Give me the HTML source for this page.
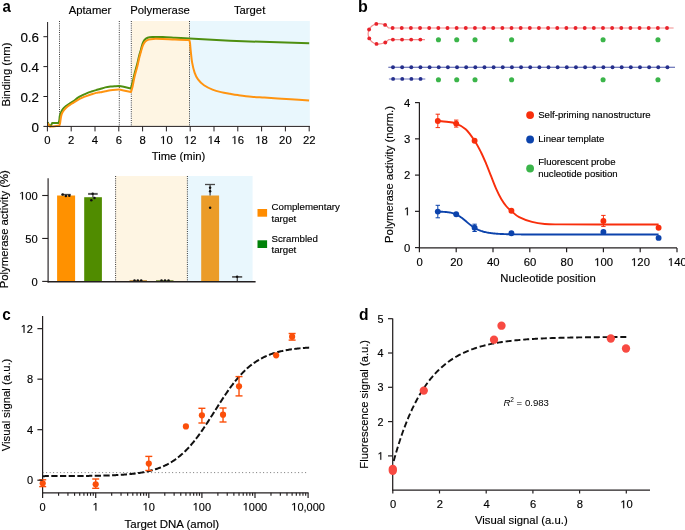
<!DOCTYPE html>
<html><head><meta charset="utf-8"><style>
html,body{margin:0;padding:0;background:#fff;}
svg{display:block;font-family:"Liberation Sans", sans-serif;fill:#000;will-change:transform;}
text{stroke:#000;stroke-width:0.15px;}
text[font-weight=bold]{stroke:none;}
</style></head><body>
<svg width="685" height="530" viewBox="0 0 685 530">
<rect x="131.8" y="21" width="57.7" height="105" fill="#fef5e3"/>
<rect x="189.5" y="21" width="120.3" height="104.6" fill="#e9f7fd"/>
<line x1="59.5" y1="21" x2="59.5" y2="126" stroke="#222" stroke-width="0.9" stroke-dasharray="1 1.2"/>
<line x1="119.3" y1="21" x2="119.3" y2="126" stroke="#222" stroke-width="0.9" stroke-dasharray="1 1.2"/>
<line x1="131.3" y1="21" x2="131.3" y2="126" stroke="#222" stroke-width="0.9" stroke-dasharray="1 1.2"/>
<line x1="189.5" y1="21" x2="189.5" y2="126" stroke="#222" stroke-width="0.9" stroke-dasharray="1 1.2"/>
<path d="M47.70,122.20 L48.60,124.50 L50.50,126.30 L51.50,124.50 L52.10,123.00 L54.20,122.90 L58.60,122.90 C58.72,122.50 59.10,121.65 59.30,120.50 C59.50,119.35 59.52,117.37 59.80,116.00 C60.08,114.63 60.43,113.52 61.00,112.30 C61.57,111.08 62.37,109.75 63.20,108.70 C64.03,107.65 64.93,106.87 66.00,106.00 C67.07,105.13 68.40,104.27 69.60,103.50 C70.80,102.73 71.80,102.38 73.20,101.40 C74.60,100.42 76.45,98.63 78.00,97.60 C79.55,96.57 80.98,95.95 82.50,95.20 C84.02,94.45 85.58,93.72 87.10,93.10 C88.62,92.48 90.10,92.00 91.60,91.50 C93.10,91.00 94.70,90.52 96.10,90.10 C97.50,89.68 98.47,89.45 100.00,89.00 C101.53,88.55 103.55,87.80 105.30,87.40 C107.05,87.00 108.75,86.80 110.50,86.60 C112.25,86.40 114.32,86.30 115.80,86.20 C117.28,86.10 118.80,86.03 119.40,86.00 L123.60,86.80 L130.80,88.40 C131.07,87.50 131.78,85.40 132.40,83.00 C133.02,80.60 133.72,77.08 134.50,74.00 C135.28,70.92 136.33,67.50 137.10,64.50 C137.87,61.50 138.45,58.52 139.10,56.00 C139.75,53.48 140.42,51.48 141.00,49.40 C141.58,47.32 142.02,45.07 142.60,43.50 C143.18,41.93 143.67,40.95 144.50,40.00 C145.33,39.05 146.28,38.30 147.60,37.80 C148.92,37.30 149.88,37.13 152.40,37.00 C154.92,36.87 158.93,36.88 162.70,37.00 C166.47,37.12 170.53,37.43 175.00,37.70 C179.47,37.97 187.08,38.45 189.50,38.60 L230.00,40.80 L270.00,42.10 L309.20,43.20" fill="none" stroke="#4e8f10" stroke-width="2.0" stroke-linejoin="round"/>
<path d="M47.70,123.20 L49.80,126.60 L53.50,126.60 L59.30,125.60 C59.43,125.17 59.90,123.93 60.10,123.00 C60.30,122.07 60.32,121.18 60.50,120.00 C60.68,118.82 60.90,117.10 61.20,115.90 C61.50,114.70 61.80,113.78 62.30,112.80 C62.80,111.82 63.52,110.88 64.20,110.00 C64.88,109.12 65.50,108.32 66.40,107.50 C67.30,106.68 68.47,105.88 69.60,105.10 C70.73,104.32 71.80,103.67 73.20,102.80 C74.60,101.93 76.45,100.75 78.00,99.90 C79.55,99.05 80.98,98.37 82.50,97.70 C84.02,97.03 85.58,96.47 87.10,95.90 C88.62,95.33 90.10,94.80 91.60,94.30 C93.10,93.80 94.70,93.23 96.10,92.90 C97.50,92.57 98.47,92.58 100.00,92.30 C101.53,92.02 103.55,91.55 105.30,91.20 C107.05,90.85 108.75,90.45 110.50,90.20 C112.25,89.95 114.32,89.80 115.80,89.70 C117.28,89.60 118.80,89.62 119.40,89.60 L123.60,90.50 L131.00,92.00 C131.27,91.08 131.98,89.17 132.60,86.50 C133.22,83.83 133.92,79.33 134.70,76.00 C135.48,72.67 136.55,69.50 137.30,66.50 C138.05,63.50 138.58,60.52 139.20,58.00 C139.82,55.48 140.38,53.52 141.00,51.40 C141.62,49.28 142.18,46.95 142.90,45.30 C143.62,43.65 144.35,42.45 145.30,41.50 C146.25,40.55 147.27,40.03 148.60,39.60 C149.93,39.17 150.95,39.00 153.30,38.90 C155.65,38.80 159.08,38.88 162.70,39.00 C166.32,39.12 170.57,39.43 175.00,39.60 C179.43,39.77 186.92,39.93 189.30,40.00 C189.42,40.50 189.77,41.25 190.00,43.00 C190.23,44.75 190.35,47.27 190.70,50.50 C191.05,53.73 191.45,58.72 192.10,62.40 C192.75,66.08 193.62,69.77 194.60,72.60 C195.58,75.43 196.43,77.28 198.00,79.40 C199.57,81.52 201.58,83.60 204.00,85.30 C206.42,87.00 209.67,88.47 212.50,89.60 C215.33,90.73 218.08,91.40 221.00,92.10 C223.92,92.80 227.15,93.30 230.00,93.80 C232.85,94.30 234.55,94.62 238.10,95.10 C241.65,95.58 246.92,96.30 251.30,96.70 C255.68,97.10 260.02,97.22 264.40,97.50 C268.78,97.78 273.22,98.10 277.60,98.40 C281.98,98.70 285.45,98.93 290.70,99.30 C295.95,99.67 306.03,100.38 309.10,100.60" fill="none" stroke="#ff9410" stroke-width="2.0" stroke-linejoin="round"/>
<line x1="47.6" y1="22" x2="47.6" y2="126.9" stroke="#231f20" stroke-width="1" />
<line x1="47.1" y1="126.4" x2="309.9" y2="126.4" stroke="#231f20" stroke-width="1" />
<line x1="43.4" y1="126.4" x2="47.6" y2="126.4" stroke="#231f20" stroke-width="1" />
<text x="39.0" y="131.6" font-size="13.4" text-anchor="end" font-weight="normal" >0</text>
<line x1="43.4" y1="96.5" x2="47.6" y2="96.5" stroke="#231f20" stroke-width="1" />
<text x="39.0" y="101.7" font-size="13.4" text-anchor="end" font-weight="normal" >0.2</text>
<line x1="43.4" y1="66.6" x2="47.6" y2="66.6" stroke="#231f20" stroke-width="1" />
<text x="39.0" y="71.8" font-size="13.4" text-anchor="end" font-weight="normal" >0.4</text>
<line x1="43.4" y1="36.7" x2="47.6" y2="36.7" stroke="#231f20" stroke-width="1" />
<text x="39.0" y="41.900000000000006" font-size="13.4" text-anchor="end" font-weight="normal" >0.6</text>
<line x1="47.4" y1="126.4" x2="47.4" y2="131.4" stroke="#231f20" stroke-width="1" />
<text x="47.4" y="143.9" font-size="11.3" text-anchor="middle" font-weight="normal" >0</text>
<line x1="71.2" y1="126.4" x2="71.2" y2="131.4" stroke="#231f20" stroke-width="1" />
<text x="71.2" y="143.9" font-size="11.3" text-anchor="middle" font-weight="normal" >2</text>
<line x1="95.0" y1="126.4" x2="95.0" y2="131.4" stroke="#231f20" stroke-width="1" />
<text x="95.0" y="143.9" font-size="11.3" text-anchor="middle" font-weight="normal" >4</text>
<line x1="118.80000000000001" y1="126.4" x2="118.80000000000001" y2="131.4" stroke="#231f20" stroke-width="1" />
<text x="118.80000000000001" y="143.9" font-size="11.3" text-anchor="middle" font-weight="normal" >6</text>
<line x1="142.6" y1="126.4" x2="142.6" y2="131.4" stroke="#231f20" stroke-width="1" />
<text x="142.6" y="143.9" font-size="11.3" text-anchor="middle" font-weight="normal" >8</text>
<line x1="166.4" y1="126.4" x2="166.4" y2="131.4" stroke="#231f20" stroke-width="1" />
<text x="160.115" y="143.9" font-size="11.3">&#x2007;0</text>
<path transform="translate(160.115,143.9) scale(0.005518,-0.005518)" d="M515,0 L696,0 L696,1409 L530,1409 L197,1180 L197,1010 L515,1237 Z" fill="#000" stroke="#000" stroke-width="0.15" vector-effect="non-scaling-stroke"/>
<line x1="190.20000000000002" y1="126.4" x2="190.20000000000002" y2="131.4" stroke="#231f20" stroke-width="1" />
<text x="183.915" y="143.9" font-size="11.3">&#x2007;2</text>
<path transform="translate(183.915,143.9) scale(0.005518,-0.005518)" d="M515,0 L696,0 L696,1409 L530,1409 L197,1180 L197,1010 L515,1237 Z" fill="#000" stroke="#000" stroke-width="0.15" vector-effect="non-scaling-stroke"/>
<line x1="214.0" y1="126.4" x2="214.0" y2="131.4" stroke="#231f20" stroke-width="1" />
<text x="207.715" y="143.9" font-size="11.3">&#x2007;4</text>
<path transform="translate(207.715,143.9) scale(0.005518,-0.005518)" d="M515,0 L696,0 L696,1409 L530,1409 L197,1180 L197,1010 L515,1237 Z" fill="#000" stroke="#000" stroke-width="0.15" vector-effect="non-scaling-stroke"/>
<line x1="237.8" y1="126.4" x2="237.8" y2="131.4" stroke="#231f20" stroke-width="1" />
<text x="231.515" y="143.9" font-size="11.3">&#x2007;6</text>
<path transform="translate(231.515,143.9) scale(0.005518,-0.005518)" d="M515,0 L696,0 L696,1409 L530,1409 L197,1180 L197,1010 L515,1237 Z" fill="#000" stroke="#000" stroke-width="0.15" vector-effect="non-scaling-stroke"/>
<line x1="261.6" y1="126.4" x2="261.6" y2="131.4" stroke="#231f20" stroke-width="1" />
<text x="255.315" y="143.9" font-size="11.3">&#x2007;8</text>
<path transform="translate(255.315,143.9) scale(0.005518,-0.005518)" d="M515,0 L696,0 L696,1409 L530,1409 L197,1180 L197,1010 L515,1237 Z" fill="#000" stroke="#000" stroke-width="0.15" vector-effect="non-scaling-stroke"/>
<line x1="285.4" y1="126.4" x2="285.4" y2="131.4" stroke="#231f20" stroke-width="1" />
<text x="285.4" y="143.9" font-size="11.3" text-anchor="middle" font-weight="normal" >20</text>
<line x1="309.2" y1="126.4" x2="309.2" y2="131.4" stroke="#231f20" stroke-width="1" />
<text x="309.2" y="143.9" font-size="11.3" text-anchor="middle" font-weight="normal" >22</text>
<text x="178.5" y="159.8" font-size="11.3" text-anchor="middle" font-weight="normal" >Time (min)</text>
<text transform="translate(10.2,74.5) rotate(-90)" font-size="11.3" text-anchor="middle">Binding (nm)</text>
<text x="90" y="14.2" font-size="11.3" text-anchor="middle" font-weight="normal" >Aptamer</text>
<text x="160" y="14.2" font-size="11.3" text-anchor="middle" font-weight="normal" >Polymerase</text>
<text x="249.6" y="14.2" font-size="11.3" text-anchor="middle" font-weight="normal" >Target</text>
<text transform="translate(2.46,11.74) scale(0.92,1)" font-size="16.3" font-weight="bold">a</text>
<rect x="115.6" y="176" width="71.8" height="105" fill="#fef5e3"/>
<rect x="187.4" y="176" width="65.2" height="105" fill="#e9f7fd"/>
<line x1="115.6" y1="176" x2="115.6" y2="281" stroke="#222" stroke-width="0.9" stroke-dasharray="1 1.2"/>
<line x1="187.4" y1="176" x2="187.4" y2="281" stroke="#222" stroke-width="0.9" stroke-dasharray="1 1.2"/>
<rect x="57.1" y="195.50" width="18" height="85.90" fill="#ff9100"/>
<rect x="84.2" y="197.22" width="17.7" height="84.18" fill="#508c00"/>
<rect x="201.2" y="195.50" width="17.9" height="85.90" fill="#eb9c28"/>
<rect x="129.5" y="280" width="17.5" height="1.4" fill="#c99a50"/>
<rect x="156" y="280" width="17.5" height="1.4" fill="#8a9a50"/>
<line x1="61.4" y1="194.6" x2="70.8" y2="194.6" stroke="#4a4a4a" stroke-width="1.5" />
<line x1="88.1" y1="193.9" x2="97.7" y2="193.9" stroke="#5a5a5a" stroke-width="2.0" />
<line x1="92.9" y1="193.8" x2="92.9" y2="197.5" stroke="#4a4a4a" stroke-width="1.3" />
<line x1="205" y1="184.5" x2="215" y2="184.5" stroke="#4a4a4a" stroke-width="1.3" />
<line x1="210.1" y1="184.5" x2="210.1" y2="195.4" stroke="#4a4a4a" stroke-width="1.3" />
<line x1="232.1" y1="276.9" x2="242.2" y2="276.9" stroke="#555" stroke-width="1.7" />
<line x1="237.3" y1="276.8" x2="237.3" y2="281" stroke="#4a4a4a" stroke-width="1.3" />
<circle cx="62.7" cy="194.6" r="1.25" fill="#111"/>
<circle cx="65.9" cy="196" r="1.25" fill="#111"/>
<circle cx="69.3" cy="195.7" r="1.25" fill="#111"/>
<circle cx="92.7" cy="193.8" r="1.25" fill="#111"/>
<circle cx="94.5" cy="198" r="1.25" fill="#111"/>
<circle cx="91.3" cy="200.3" r="1.25" fill="#111"/>
<circle cx="210.1" cy="187.7" r="1.25" fill="#111"/>
<circle cx="210.1" cy="191.2" r="1.25" fill="#111"/>
<circle cx="210.1" cy="207.8" r="1.25" fill="#111"/>
<circle cx="134.5" cy="280.6" r="1.25" fill="#111"/>
<circle cx="137.8" cy="280.6" r="1.25" fill="#111"/>
<circle cx="141.2" cy="280.6" r="1.25" fill="#111"/>
<circle cx="161.5" cy="280.6" r="1.25" fill="#111"/>
<circle cx="165" cy="280.6" r="1.25" fill="#111"/>
<circle cx="168.5" cy="280.6" r="1.25" fill="#111"/>
<circle cx="237.1" cy="276.8" r="1.25" fill="#111"/>
<line x1="48.1" y1="178.3" x2="48.1" y2="282.4" stroke="#231f20" stroke-width="1.15" />
<line x1="47.6" y1="281.8" x2="255.6" y2="281.8" stroke="#231f20" stroke-width="1.4" />
<line x1="42.2" y1="281.4" x2="48.1" y2="281.4" stroke="#231f20" stroke-width="1.1" />
<text x="37.8" y="285.5" font-size="11.2" text-anchor="end" font-weight="normal" >0</text>
<line x1="42.2" y1="238.45" x2="48.1" y2="238.45" stroke="#231f20" stroke-width="1.1" />
<text x="37.8" y="242.54999999999998" font-size="11.2" text-anchor="end" font-weight="normal" >50</text>
<line x1="42.2" y1="195.49999999999997" x2="48.1" y2="195.49999999999997" stroke="#231f20" stroke-width="1.1" />
<text x="19.113" y="199.59999999999997" font-size="11.2">&#x2007;00</text>
<path transform="translate(19.113,199.59999999999997) scale(0.005469,-0.005469)" d="M515,0 L696,0 L696,1409 L530,1409 L197,1180 L197,1010 L515,1237 Z" fill="#000" stroke="#000" stroke-width="0.15" vector-effect="non-scaling-stroke"/>
<text transform="translate(8.4,229.2) rotate(-90)" font-size="11.3" text-anchor="middle">Polymerase activity (%)</text>
<rect x="257.5" y="209" width="9.6" height="7.7" fill="#ff8c00"/>
<rect x="257.5" y="240.3" width="9.6" height="7.7" fill="#008209"/>
<text x="271.5" y="209.9" font-size="9.7" text-anchor="start" font-weight="normal" >Complementary</text>
<text x="271.5" y="221.6" font-size="9.7" text-anchor="start" font-weight="normal" >target</text>
<text x="271.5" y="241.8" font-size="9.7" text-anchor="start" font-weight="normal" >Scrambled</text>
<text x="271.5" y="253.3" font-size="9.7" text-anchor="start" font-weight="normal" >target</text>
<text transform="translate(358.05,11.65) scale(0.985,1)" font-size="16.3" font-weight="bold">b</text>
<path d="M673.6,28 L388.6,28  C388.02,27.65 387.15,25.62 385.10,24.90 C383.05,24.18 378.97,23.13 376.30,23.90 C373.63,24.67 370.27,27.08 369.10,29.50 C367.93,31.92 368.07,36.00 369.30,38.40 C370.53,40.80 373.83,43.22 376.50,43.90 C379.17,44.58 383.28,43.22 385.30,42.50 C387.32,41.78 388.05,40.08 388.60,39.60 L425,39.6" fill="none" stroke="#f28d8d" stroke-width="1.2"/>
<circle cx="392.60" cy="28" r="1.95" fill="#e8232b"/>
<circle cx="401.75" cy="28" r="1.95" fill="#e8232b"/>
<circle cx="410.89" cy="28" r="1.95" fill="#e8232b"/>
<circle cx="420.04" cy="28" r="1.95" fill="#e8232b"/>
<circle cx="429.19" cy="28" r="1.95" fill="#e8232b"/>
<circle cx="438.34" cy="28" r="1.95" fill="#e8232b"/>
<circle cx="447.48" cy="28" r="1.95" fill="#e8232b"/>
<circle cx="456.63" cy="28" r="1.95" fill="#e8232b"/>
<circle cx="465.78" cy="28" r="1.95" fill="#e8232b"/>
<circle cx="474.92" cy="28" r="1.95" fill="#e8232b"/>
<circle cx="484.07" cy="28" r="1.95" fill="#e8232b"/>
<circle cx="493.22" cy="28" r="1.95" fill="#e8232b"/>
<circle cx="502.36" cy="28" r="1.95" fill="#e8232b"/>
<circle cx="511.51" cy="28" r="1.95" fill="#e8232b"/>
<circle cx="520.66" cy="28" r="1.95" fill="#e8232b"/>
<circle cx="529.81" cy="28" r="1.95" fill="#e8232b"/>
<circle cx="538.95" cy="28" r="1.95" fill="#e8232b"/>
<circle cx="548.10" cy="28" r="1.95" fill="#e8232b"/>
<circle cx="557.25" cy="28" r="1.95" fill="#e8232b"/>
<circle cx="566.39" cy="28" r="1.95" fill="#e8232b"/>
<circle cx="575.54" cy="28" r="1.95" fill="#e8232b"/>
<circle cx="584.69" cy="28" r="1.95" fill="#e8232b"/>
<circle cx="593.83" cy="28" r="1.95" fill="#e8232b"/>
<circle cx="602.98" cy="28" r="1.95" fill="#e8232b"/>
<circle cx="612.13" cy="28" r="1.95" fill="#e8232b"/>
<circle cx="621.28" cy="28" r="1.95" fill="#e8232b"/>
<circle cx="630.42" cy="28" r="1.95" fill="#e8232b"/>
<circle cx="639.57" cy="28" r="1.95" fill="#e8232b"/>
<circle cx="648.72" cy="28" r="1.95" fill="#e8232b"/>
<circle cx="657.86" cy="28" r="1.95" fill="#e8232b"/>
<circle cx="667.01" cy="28" r="1.95" fill="#e8232b"/>
<circle cx="385.1" cy="24.9" r="1.95" fill="#e8232b"/>
<circle cx="376.3" cy="23.9" r="1.95" fill="#e8232b"/>
<circle cx="369.1" cy="29.5" r="1.95" fill="#e8232b"/>
<circle cx="369.3" cy="38.4" r="1.95" fill="#e8232b"/>
<circle cx="376.5" cy="43.9" r="1.95" fill="#e8232b"/>
<circle cx="385.3" cy="42.5" r="1.95" fill="#e8232b"/>
<circle cx="392.90" cy="39.6" r="1.95" fill="#e8232b"/>
<circle cx="402.05" cy="39.6" r="1.95" fill="#e8232b"/>
<circle cx="411.19" cy="39.6" r="1.95" fill="#e8232b"/>
<circle cx="420.34" cy="39.6" r="1.95" fill="#e8232b"/>
<line x1="388.3" y1="67.2" x2="675" y2="67.2" stroke="#4a56a8" stroke-width="1.1" />
<line x1="388.9" y1="78.9" x2="425.3" y2="78.9" stroke="#9ea5d6" stroke-width="1.5" />
<circle cx="393.00" cy="67.2" r="1.95" fill="#252f8c"/>
<circle cx="402.15" cy="67.2" r="1.95" fill="#252f8c"/>
<circle cx="411.29" cy="67.2" r="1.95" fill="#252f8c"/>
<circle cx="420.44" cy="67.2" r="1.95" fill="#252f8c"/>
<circle cx="429.59" cy="67.2" r="1.95" fill="#252f8c"/>
<circle cx="438.74" cy="67.2" r="1.95" fill="#252f8c"/>
<circle cx="447.88" cy="67.2" r="1.95" fill="#252f8c"/>
<circle cx="457.03" cy="67.2" r="1.95" fill="#252f8c"/>
<circle cx="466.18" cy="67.2" r="1.95" fill="#252f8c"/>
<circle cx="475.32" cy="67.2" r="1.95" fill="#252f8c"/>
<circle cx="484.47" cy="67.2" r="1.95" fill="#252f8c"/>
<circle cx="493.62" cy="67.2" r="1.95" fill="#252f8c"/>
<circle cx="502.76" cy="67.2" r="1.95" fill="#252f8c"/>
<circle cx="511.91" cy="67.2" r="1.95" fill="#252f8c"/>
<circle cx="521.06" cy="67.2" r="1.95" fill="#252f8c"/>
<circle cx="530.21" cy="67.2" r="1.95" fill="#252f8c"/>
<circle cx="539.35" cy="67.2" r="1.95" fill="#252f8c"/>
<circle cx="548.50" cy="67.2" r="1.95" fill="#252f8c"/>
<circle cx="557.65" cy="67.2" r="1.95" fill="#252f8c"/>
<circle cx="566.79" cy="67.2" r="1.95" fill="#252f8c"/>
<circle cx="575.94" cy="67.2" r="1.95" fill="#252f8c"/>
<circle cx="585.09" cy="67.2" r="1.95" fill="#252f8c"/>
<circle cx="594.23" cy="67.2" r="1.95" fill="#252f8c"/>
<circle cx="603.38" cy="67.2" r="1.95" fill="#252f8c"/>
<circle cx="612.53" cy="67.2" r="1.95" fill="#252f8c"/>
<circle cx="621.68" cy="67.2" r="1.95" fill="#252f8c"/>
<circle cx="630.82" cy="67.2" r="1.95" fill="#252f8c"/>
<circle cx="639.97" cy="67.2" r="1.95" fill="#252f8c"/>
<circle cx="649.12" cy="67.2" r="1.95" fill="#252f8c"/>
<circle cx="658.26" cy="67.2" r="1.95" fill="#252f8c"/>
<circle cx="667.41" cy="67.2" r="1.95" fill="#252f8c"/>
<circle cx="393.10" cy="78.9" r="1.95" fill="#252f8c"/>
<circle cx="402.25" cy="78.9" r="1.95" fill="#252f8c"/>
<circle cx="411.39" cy="78.9" r="1.95" fill="#252f8c"/>
<circle cx="420.54" cy="78.9" r="1.95" fill="#252f8c"/>
<circle cx="438.44" cy="39.7" r="2.55" fill="#3bb54a"/>
<circle cx="438.44" cy="79.7" r="2.55" fill="#3bb54a"/>
<circle cx="456.73" cy="39.7" r="2.55" fill="#3bb54a"/>
<circle cx="456.73" cy="79.7" r="2.55" fill="#3bb54a"/>
<circle cx="475.02" cy="39.7" r="2.55" fill="#3bb54a"/>
<circle cx="475.02" cy="79.7" r="2.55" fill="#3bb54a"/>
<circle cx="511.61" cy="39.7" r="2.55" fill="#3bb54a"/>
<circle cx="511.61" cy="79.7" r="2.55" fill="#3bb54a"/>
<circle cx="603.08" cy="39.7" r="2.55" fill="#3bb54a"/>
<circle cx="603.08" cy="79.7" r="2.55" fill="#3bb54a"/>
<circle cx="657.96" cy="39.7" r="2.55" fill="#3bb54a"/>
<circle cx="657.96" cy="79.7" r="2.55" fill="#3bb54a"/>
<path d="M437.60,120.80 C439.08,120.95 443.52,121.27 446.50,121.70 C449.48,122.13 452.30,122.15 455.50,123.40 C458.70,124.65 462.52,126.32 465.70,129.20 C468.88,132.08 472.05,136.87 474.60,140.70 C477.15,144.53 479.08,148.38 481.00,152.20 C482.92,156.02 484.40,159.57 486.10,163.60 C487.80,167.63 489.50,172.15 491.20,176.40 C492.90,180.65 494.60,185.28 496.30,189.10 C498.00,192.92 499.70,196.40 501.40,199.30 C503.10,202.20 504.88,204.58 506.50,206.50 C508.12,208.42 508.98,209.02 511.10,210.80 C513.22,212.58 515.72,215.35 519.20,217.20 C522.68,219.05 527.75,220.77 532.00,221.90 C536.25,223.03 540.03,223.58 544.70,224.00 C549.37,224.42 550.78,224.32 560.00,224.40 C569.22,224.48 583.57,224.48 600.00,224.50 C616.43,224.52 648.83,224.50 658.60,224.50" fill="none" stroke="#f82e0c" stroke-width="1.9"/>
<path d="M437.80,211.74 L438.72,211.75 L439.64,211.76 L440.56,211.77 L441.48,211.80 L442.40,211.82 L443.32,211.86 L444.24,211.90 L445.16,211.96 L446.08,212.03 L447.00,212.11 L447.92,212.22 L448.84,212.34 L449.76,212.49 L450.68,212.66 L451.60,212.87 L452.52,213.10 L453.44,213.38 L454.36,213.70 L455.28,214.06 L456.20,214.46 L457.12,214.91 L458.04,215.41 L458.96,215.95 L459.88,216.54 L460.80,217.18 L461.72,217.85 L462.64,218.55 L463.56,219.29 L464.48,220.04 L465.40,220.81 L466.32,221.59 L467.24,222.36 L468.16,223.13 L469.08,223.88 L470.00,224.62 L470.92,225.33 L471.84,226.01 L472.76,226.65 L473.68,227.26 L474.60,227.84 L475.52,228.38 L476.44,228.88 L477.36,229.35 L478.28,229.79 L479.20,230.19 L480.12,230.55 L481.04,230.89 L481.96,231.20 L482.88,231.49 L483.80,231.75 L484.72,231.98 L485.64,232.20 L486.56,232.40 L487.48,232.58 L488.40,232.74 L489.32,232.89 L490.24,233.03 L491.16,233.15 L492.08,233.27 L493.00,233.37 L493.92,233.47 L494.84,233.55 L495.76,233.63 L496.68,233.70 L497.60,233.77 L498.52,233.83 L499.44,233.88 L500.36,233.93 L501.28,233.98 L502.20,234.02 L503.12,234.06 L504.04,234.10 L504.96,234.13 L505.88,234.16 L506.80,234.19 L507.72,234.21 L508.64,234.24 L509.56,234.26 L510.48,234.28 L511.40,234.30 L512.32,234.31 L513.24,234.33 L514.16,234.34 L515.08,234.36 L516.00,234.37 L516.92,234.38 L517.84,234.39 L518.76,234.40 L519.68,234.41 L520.60,234.42 L521.52,234.43 L522.44,234.44 L523.36,234.44 L524.28,234.45 L525.20,234.45 L526.12,234.46 L527.04,234.47 L527.96,234.47 L528.88,234.48 L529.80,234.48 L530.72,234.48 L531.64,234.49 L532.56,234.49 L533.48,234.49 L534.40,234.50 L535.32,234.50 L536.24,234.50 L537.16,234.51 L538.08,234.51 L539.00,234.51 L539.92,234.51 L540.84,234.51 L541.76,234.52 L542.68,234.52 L543.60,234.52 L544.52,234.52 L545.44,234.52 L546.36,234.52 L547.28,234.53 L548.20,234.53 L549.12,234.53 L550.04,234.53 L550.96,234.53 L551.88,234.53 L552.80,234.53 L553.72,234.53 L554.64,234.53 L555.56,234.53 L556.48,234.53 L557.40,234.54 L558.32,234.54 L559.24,234.54 L560.16,234.54 L561.08,234.54 L562.00,234.54 L562.92,234.54 L563.84,234.54 L564.76,234.54 L565.68,234.54 L566.60,234.54 L567.52,234.54 L568.44,234.54 L569.36,234.54 L570.28,234.54 L571.20,234.54 L572.12,234.54 L573.04,234.54 L573.96,234.54 L574.88,234.54 L575.80,234.54 L576.72,234.54 L577.64,234.54 L578.56,234.54 L579.48,234.54 L580.40,234.55 L581.32,234.55 L582.24,234.55 L583.16,234.55 L584.08,234.55 L585.00,234.55 L585.92,234.55 L586.84,234.55 L587.76,234.55 L588.68,234.55 L589.60,234.55 L590.52,234.55 L591.44,234.55 L592.36,234.55 L593.28,234.55 L594.20,234.55 L595.12,234.55 L596.04,234.55 L596.96,234.55 L597.88,234.55 L598.80,234.55 L599.72,234.55 L600.64,234.55 L601.56,234.55 L602.48,234.55 L603.40,234.55 L604.32,234.55 L605.24,234.55 L606.16,234.55 L607.08,234.55 L608.00,234.55 L608.92,234.55 L609.84,234.55 L610.76,234.55 L611.68,234.55 L612.60,234.55 L613.52,234.55 L614.44,234.55 L615.36,234.55 L616.28,234.55 L617.20,234.55 L618.12,234.55 L619.04,234.55 L619.96,234.55 L620.88,234.55 L621.80,234.55 L622.72,234.55 L623.64,234.55 L624.56,234.55 L625.48,234.55 L626.40,234.55 L627.32,234.55 L628.24,234.55 L629.16,234.55 L630.08,234.55 L631.00,234.55 L631.92,234.55 L632.84,234.55 L633.76,234.55 L634.68,234.55 L635.60,234.55 L636.52,234.55 L637.44,234.55 L638.36,234.55 L639.28,234.55 L640.20,234.55 L641.12,234.55 L642.04,234.55 L642.96,234.55 L643.88,234.55 L644.80,234.55 L645.72,234.55 L646.64,234.55 L647.56,234.55 L648.48,234.55 L649.40,234.55 L650.32,234.55 L651.24,234.55 L652.16,234.55 L653.08,234.55 L654.00,234.55 L654.92,234.55 L655.84,234.55 L656.76,234.55 L657.68,234.55 L658.60,234.55" fill="none" stroke="#0c43ac" stroke-width="1.9"/>
<line x1="437.79999999999995" y1="114.2" x2="437.79999999999995" y2="127.6" stroke="#f82e0c" stroke-width="1" />
<line x1="435.59999999999997" y1="114.2" x2="439.99999999999994" y2="114.2" stroke="#f82e0c" stroke-width="1" />
<line x1="435.59999999999997" y1="127.6" x2="439.99999999999994" y2="127.6" stroke="#f82e0c" stroke-width="1" />
<circle cx="437.79999999999995" cy="121" r="2.95" fill="#f82e0c"/>
<line x1="456.2" y1="120.1" x2="456.2" y2="127.1" stroke="#f82e0c" stroke-width="1" />
<line x1="454.0" y1="120.1" x2="458.4" y2="120.1" stroke="#f82e0c" stroke-width="1" />
<line x1="454.0" y1="127.1" x2="458.4" y2="127.1" stroke="#f82e0c" stroke-width="1" />
<circle cx="456.2" cy="123.6" r="2.95" fill="#f82e0c"/>
<circle cx="474.59999999999997" cy="140.8" r="2.95" fill="#f82e0c"/>
<circle cx="511.4" cy="210.7" r="2.95" fill="#f82e0c"/>
<line x1="603.4" y1="215.4" x2="603.4" y2="226.4" stroke="#f82e0c" stroke-width="1" />
<line x1="601.1999999999999" y1="215.4" x2="605.6" y2="215.4" stroke="#f82e0c" stroke-width="1" />
<line x1="601.1999999999999" y1="226.4" x2="605.6" y2="226.4" stroke="#f82e0c" stroke-width="1" />
<circle cx="603.4" cy="220.9" r="2.95" fill="#f82e0c"/>
<circle cx="658.6" cy="227.8" r="2.95" fill="#f82e0c"/>
<line x1="437.79999999999995" y1="205.3" x2="437.79999999999995" y2="217.8" stroke="#0c43ac" stroke-width="1" />
<line x1="435.59999999999997" y1="205.3" x2="439.99999999999994" y2="205.3" stroke="#0c43ac" stroke-width="1" />
<line x1="435.59999999999997" y1="217.8" x2="439.99999999999994" y2="217.8" stroke="#0c43ac" stroke-width="1" />
<circle cx="437.79999999999995" cy="211.6" r="2.95" fill="#0c43ac"/>
<circle cx="456.2" cy="214.3" r="2.95" fill="#0c43ac"/>
<line x1="474.59999999999997" y1="224.2" x2="474.59999999999997" y2="231.5" stroke="#0c43ac" stroke-width="1" />
<line x1="472.4" y1="224.2" x2="476.79999999999995" y2="224.2" stroke="#0c43ac" stroke-width="1" />
<line x1="472.4" y1="231.5" x2="476.79999999999995" y2="231.5" stroke="#0c43ac" stroke-width="1" />
<circle cx="474.59999999999997" cy="227.7" r="2.95" fill="#0c43ac"/>
<circle cx="511.4" cy="233.2" r="2.95" fill="#0c43ac"/>
<circle cx="603.4" cy="232" r="2.95" fill="#0c43ac"/>
<circle cx="658.6" cy="237.9" r="2.95" fill="#0c43ac"/>
<line x1="419.4" y1="102.3" x2="419.4" y2="248.5" stroke="#231f20" stroke-width="1.2" />
<line x1="418.9" y1="247.9" x2="677" y2="247.9" stroke="#231f20" stroke-width="1.25" />
<line x1="415.0" y1="247.6" x2="419.4" y2="247.6" stroke="#231f20" stroke-width="1.2" />
<text x="410.3" y="251.6" font-size="11.3" text-anchor="end" font-weight="normal" >0</text>
<line x1="415.0" y1="211.35" x2="419.4" y2="211.35" stroke="#231f20" stroke-width="1.2" />
<text x="404.015" y="215.35" font-size="11.3">&#x2007;</text>
<path transform="translate(404.015,215.35) scale(0.005518,-0.005518)" d="M515,0 L696,0 L696,1409 L530,1409 L197,1180 L197,1010 L515,1237 Z" fill="#000" stroke="#000" stroke-width="0.15" vector-effect="non-scaling-stroke"/>
<line x1="415.0" y1="175.1" x2="419.4" y2="175.1" stroke="#231f20" stroke-width="1.2" />
<text x="410.3" y="179.1" font-size="11.3" text-anchor="end" font-weight="normal" >2</text>
<line x1="415.0" y1="138.85" x2="419.4" y2="138.85" stroke="#231f20" stroke-width="1.2" />
<text x="410.3" y="142.85" font-size="11.3" text-anchor="end" font-weight="normal" >3</text>
<line x1="415.0" y1="102.6" x2="419.4" y2="102.6" stroke="#231f20" stroke-width="1.2" />
<text x="410.3" y="106.6" font-size="11.3" text-anchor="end" font-weight="normal" >4</text>
<line x1="419.4" y1="247.9" x2="419.4" y2="252.3" stroke="#231f20" stroke-width="1.2" />
<text x="419.7" y="266.0" font-size="11.3" text-anchor="middle" font-weight="normal" >0</text>
<line x1="456.2" y1="247.9" x2="456.2" y2="252.3" stroke="#231f20" stroke-width="1.2" />
<text x="456.5" y="266.0" font-size="11.3" text-anchor="middle" font-weight="normal" >20</text>
<line x1="493.0" y1="247.9" x2="493.0" y2="252.3" stroke="#231f20" stroke-width="1.2" />
<text x="493.3" y="266.0" font-size="11.3" text-anchor="middle" font-weight="normal" >40</text>
<line x1="529.8" y1="247.9" x2="529.8" y2="252.3" stroke="#231f20" stroke-width="1.2" />
<text x="530.0999999999999" y="266.0" font-size="11.3" text-anchor="middle" font-weight="normal" >60</text>
<line x1="566.6" y1="247.9" x2="566.6" y2="252.3" stroke="#231f20" stroke-width="1.2" />
<text x="566.9" y="266.0" font-size="11.3" text-anchor="middle" font-weight="normal" >80</text>
<line x1="603.4" y1="247.9" x2="603.4" y2="252.3" stroke="#231f20" stroke-width="1.2" />
<text x="594.273" y="266.0" font-size="11.3">&#x2007;00</text>
<path transform="translate(594.273,266.0) scale(0.005518,-0.005518)" d="M515,0 L696,0 L696,1409 L530,1409 L197,1180 L197,1010 L515,1237 Z" fill="#000" stroke="#000" stroke-width="0.15" vector-effect="non-scaling-stroke"/>
<line x1="640.2" y1="247.9" x2="640.2" y2="252.3" stroke="#231f20" stroke-width="1.2" />
<text x="631.073" y="266.0" font-size="11.3">&#x2007;20</text>
<path transform="translate(631.073,266.0) scale(0.005518,-0.005518)" d="M515,0 L696,0 L696,1409 L530,1409 L197,1180 L197,1010 L515,1237 Z" fill="#000" stroke="#000" stroke-width="0.15" vector-effect="non-scaling-stroke"/>
<line x1="677.0" y1="247.9" x2="677.0" y2="252.3" stroke="#231f20" stroke-width="1.2" />
<text x="667.873" y="266.0" font-size="11.3">&#x2007;40</text>
<path transform="translate(667.873,266.0) scale(0.005518,-0.005518)" d="M515,0 L696,0 L696,1409 L530,1409 L197,1180 L197,1010 L515,1237 Z" fill="#000" stroke="#000" stroke-width="0.15" vector-effect="non-scaling-stroke"/>
<text x="548" y="281.7" font-size="11.3" text-anchor="middle" font-weight="normal" >Nucleotide position</text>
<text transform="translate(392.8,174.5) rotate(-90)" font-size="11.3" text-anchor="middle">Polymerase activity (norm.)</text>
<circle cx="530.1" cy="115.1" r="3.9" fill="#f82e0c"/>
<circle cx="530.1" cy="139.5" r="3.9" fill="#0c43ac"/>
<circle cx="530.1" cy="168.5" r="3.9" fill="#3bb54a"/>
<text x="538.2" y="118.2" font-size="9.6" text-anchor="start" font-weight="normal" >Self-priming nanostructure</text>
<text x="538.2" y="142.2" font-size="9.6" text-anchor="start" font-weight="normal" >Linear template</text>
<text x="538.2" y="165.4" font-size="9.6" text-anchor="start" font-weight="normal" >Fluorescent probe</text>
<text x="538.2" y="176.6" font-size="9.6" text-anchor="start" font-weight="normal" >nucleotide position</text>
<text transform="translate(2.3,319.75) scale(0.94,1)" font-size="16.3" font-weight="bold">c</text>
<line x1="42.6" y1="316" x2="42.6" y2="493.3" stroke="#231f20" stroke-width="1.2" />
<line x1="42.1" y1="492.8" x2="308.5" y2="492.8" stroke="#231f20" stroke-width="1.25" />
<line x1="42.7" y1="472.6" x2="308.2" y2="472.6" stroke="#444" stroke-width="0.8" stroke-dasharray="0.9 2.6"/>
<path d="M42.60,476.13 L43.49,476.13 L44.38,476.13 L45.27,476.12 L46.15,476.12 L47.04,476.12 L47.93,476.12 L48.82,476.12 L49.71,476.12 L50.60,476.11 L51.49,476.11 L52.37,476.11 L53.26,476.11 L54.15,476.11 L55.04,476.10 L55.93,476.10 L56.82,476.10 L57.71,476.10 L58.59,476.09 L59.48,476.09 L60.37,476.09 L61.26,476.08 L62.15,476.08 L63.04,476.08 L63.92,476.07 L64.81,476.07 L65.70,476.07 L66.59,476.06 L67.48,476.06 L68.37,476.05 L69.26,476.05 L70.14,476.04 L71.03,476.04 L71.92,476.03 L72.81,476.03 L73.70,476.02 L74.59,476.02 L75.48,476.01 L76.36,476.00 L77.25,476.00 L78.14,475.99 L79.03,475.98 L79.92,475.97 L80.81,475.97 L81.70,475.96 L82.58,475.95 L83.47,475.94 L84.36,475.93 L85.25,475.92 L86.14,475.91 L87.03,475.90 L87.92,475.89 L88.80,475.88 L89.69,475.86 L90.58,475.85 L91.47,475.84 L92.36,475.82 L93.25,475.81 L94.14,475.79 L95.02,475.78 L95.91,475.76 L96.80,475.74 L97.69,475.72 L98.58,475.70 L99.47,475.68 L100.36,475.66 L101.24,475.64 L102.13,475.62 L103.02,475.60 L103.91,475.57 L104.80,475.54 L105.69,475.52 L106.57,475.49 L107.46,475.46 L108.35,475.43 L109.24,475.40 L110.13,475.36 L111.02,475.33 L111.91,475.29 L112.79,475.25 L113.68,475.21 L114.57,475.17 L115.46,475.13 L116.35,475.08 L117.24,475.04 L118.13,474.99 L119.01,474.94 L119.90,474.88 L120.79,474.83 L121.68,474.77 L122.57,474.71 L123.46,474.65 L124.35,474.58 L125.23,474.51 L126.12,474.44 L127.01,474.36 L127.90,474.29 L128.79,474.20 L129.68,474.12 L130.57,474.03 L131.45,473.94 L132.34,473.84 L133.23,473.74 L134.12,473.64 L135.01,473.53 L135.90,473.41 L136.79,473.29 L137.67,473.17 L138.56,473.04 L139.45,472.91 L140.34,472.77 L141.23,472.62 L142.12,472.47 L143.01,472.31 L143.89,472.15 L144.78,471.97 L145.67,471.79 L146.56,471.61 L147.45,471.41 L148.34,471.21 L149.22,471.00 L150.11,470.78 L151.00,470.56 L151.89,470.32 L152.78,470.07 L153.67,469.82 L154.56,469.55 L155.44,469.28 L156.33,468.99 L157.22,468.69 L158.11,468.38 L159.00,468.06 L159.89,467.72 L160.78,467.37 L161.66,467.01 L162.55,466.64 L163.44,466.25 L164.33,465.85 L165.22,465.43 L166.11,464.99 L167.00,464.54 L167.88,464.08 L168.77,463.60 L169.66,463.10 L170.55,462.58 L171.44,462.04 L172.33,461.49 L173.22,460.92 L174.10,460.33 L174.99,459.71 L175.88,459.08 L176.77,458.43 L177.66,457.76 L178.55,457.06 L179.44,456.35 L180.32,455.61 L181.21,454.85 L182.10,454.07 L182.99,453.27 L183.88,452.44 L184.77,451.59 L185.65,450.71 L186.54,449.82 L187.43,448.90 L188.32,447.95 L189.21,446.99 L190.10,446.00 L190.99,444.98 L191.87,443.95 L192.76,442.89 L193.65,441.81 L194.54,440.70 L195.43,439.57 L196.32,438.43 L197.21,437.26 L198.09,436.07 L198.98,434.86 L199.87,433.63 L200.76,432.39 L201.65,431.12 L202.54,429.84 L203.43,428.54 L204.31,427.23 L205.20,425.91 L206.09,424.57 L206.98,423.22 L207.87,421.85 L208.76,420.48 L209.65,419.10 L210.53,417.72 L211.42,416.32 L212.31,414.92 L213.20,413.52 L214.09,412.12 L214.98,410.71 L215.87,409.31 L216.75,407.91 L217.64,406.51 L218.53,405.11 L219.42,403.73 L220.31,402.34 L221.20,400.97 L222.09,399.61 L222.97,398.25 L223.86,396.91 L224.75,395.58 L225.64,394.26 L226.53,392.96 L227.42,391.68 L228.30,390.41 L229.19,389.16 L230.08,387.93 L230.97,386.71 L231.86,385.52 L232.75,384.34 L233.64,383.19 L234.52,382.06 L235.41,380.95 L236.30,379.86 L237.19,378.80 L238.08,377.76 L238.97,376.74 L239.86,375.74 L240.74,374.77 L241.63,373.82 L242.52,372.89 L243.41,371.99 L244.30,371.11 L245.19,370.25 L246.08,369.42 L246.96,368.61 L247.85,367.82 L248.74,367.06 L249.63,366.31 L250.52,365.59 L251.41,364.89 L252.30,364.22 L253.18,363.56 L254.07,362.92 L254.96,362.31 L255.85,361.71 L256.74,361.13 L257.63,360.57 L258.52,360.03 L259.40,359.51 L260.29,359.01 L261.18,358.52 L262.07,358.05 L262.96,357.60 L263.85,357.16 L264.74,356.74 L265.62,356.33 L266.51,355.94 L267.40,355.56 L268.29,355.20 L269.18,354.84 L270.07,354.51 L270.95,354.18 L271.84,353.87 L272.73,353.57 L273.62,353.28 L274.51,353.00 L275.40,352.73 L276.29,352.47 L277.17,352.22 L278.06,351.98 L278.95,351.75 L279.84,351.53 L280.73,351.32 L281.62,351.12 L282.51,350.92 L283.39,350.73 L284.28,350.55 L285.17,350.38 L286.06,350.21 L286.95,350.05 L287.84,349.90 L288.73,349.75 L289.61,349.61 L290.50,349.47 L291.39,349.34 L292.28,349.22 L293.17,349.10 L294.06,348.98 L294.95,348.87 L295.83,348.77 L296.72,348.66 L297.61,348.57 L298.50,348.47 L299.39,348.38 L300.28,348.30 L301.17,348.22 L302.05,348.14 L302.94,348.06 L303.83,347.99 L304.72,347.92 L305.61,347.85 L306.50,347.79 L307.38,347.73 L308.27,347.67 L309.16,347.61" fill="none" stroke="#111" stroke-width="2" stroke-dasharray="6.263 2.425"/>
<line x1="42.7" y1="479.8" x2="42.7" y2="486.6" stroke="#fb4f0a" stroke-width="1.4" />
<line x1="39.2" y1="479.8" x2="46.2" y2="479.8" stroke="#fb4f0a" stroke-width="1.4" />
<line x1="39.2" y1="486.6" x2="46.2" y2="486.6" stroke="#fb4f0a" stroke-width="1.4" />
<circle cx="42.70" cy="483.36" r="3.1" fill="#fb4f0a"/>
<line x1="95.7" y1="479" x2="95.7" y2="488.3" stroke="#fb4f0a" stroke-width="1.4" />
<line x1="92.2" y1="479" x2="99.2" y2="479" stroke="#fb4f0a" stroke-width="1.4" />
<line x1="92.2" y1="488.3" x2="99.2" y2="488.3" stroke="#fb4f0a" stroke-width="1.4" />
<circle cx="95.70" cy="484.24" r="3.1" fill="#fb4f0a"/>
<line x1="148.8" y1="456.4" x2="148.8" y2="470.5" stroke="#fb4f0a" stroke-width="1.4" />
<line x1="145.3" y1="456.4" x2="152.3" y2="456.4" stroke="#fb4f0a" stroke-width="1.4" />
<line x1="145.3" y1="470.5" x2="152.3" y2="470.5" stroke="#fb4f0a" stroke-width="1.4" />
<circle cx="148.80" cy="463.53" r="3.1" fill="#fb4f0a"/>
<circle cx="185.92" cy="426.40" r="3.1" fill="#fb4f0a"/>
<line x1="201.9" y1="408.3" x2="201.9" y2="423" stroke="#fb4f0a" stroke-width="1.4" />
<line x1="198.4" y1="408.3" x2="205.4" y2="408.3" stroke="#fb4f0a" stroke-width="1.4" />
<line x1="198.4" y1="423" x2="205.4" y2="423" stroke="#fb4f0a" stroke-width="1.4" />
<circle cx="201.90" cy="415.28" r="3.1" fill="#fb4f0a"/>
<line x1="223.0306144604852" y1="408" x2="223.0306144604852" y2="422" stroke="#fb4f0a" stroke-width="1.4" />
<line x1="219.5306144604852" y1="408" x2="226.5306144604852" y2="408" stroke="#fb4f0a" stroke-width="1.4" />
<line x1="219.5306144604852" y1="422" x2="226.5306144604852" y2="422" stroke="#fb4f0a" stroke-width="1.4" />
<circle cx="223.03" cy="414.65" r="3.1" fill="#fb4f0a"/>
<line x1="239.01530723024263" y1="376.6" x2="239.01530723024263" y2="395.9" stroke="#fb4f0a" stroke-width="1.4" />
<line x1="235.51530723024263" y1="376.6" x2="242.51530723024263" y2="376.6" stroke="#fb4f0a" stroke-width="1.4" />
<line x1="235.51530723024263" y1="395.9" x2="242.51530723024263" y2="395.9" stroke="#fb4f0a" stroke-width="1.4" />
<circle cx="239.02" cy="386.36" r="3.1" fill="#fb4f0a"/>
<circle cx="276.13" cy="355.29" r="3.1" fill="#fb4f0a"/>
<line x1="292.1153072302426" y1="333.5" x2="292.1153072302426" y2="340.1" stroke="#fb4f0a" stroke-width="1.4" />
<line x1="288.6153072302426" y1="333.5" x2="295.6153072302426" y2="333.5" stroke="#fb4f0a" stroke-width="1.4" />
<line x1="288.6153072302426" y1="340.1" x2="295.6153072302426" y2="340.1" stroke="#fb4f0a" stroke-width="1.4" />
<circle cx="292.12" cy="336.72" r="3.1" fill="#fb4f0a"/>
<line x1="37.4" y1="480.2" x2="42.6" y2="480.2" stroke="#231f20" stroke-width="1.2" />
<text x="33" y="484.2" font-size="11" text-anchor="end" font-weight="normal" >0</text>
<line x1="37.4" y1="429.68" x2="42.6" y2="429.68" stroke="#231f20" stroke-width="1.2" />
<text x="33" y="433.68" font-size="11" text-anchor="end" font-weight="normal" >4</text>
<line x1="37.4" y1="379.15999999999997" x2="42.6" y2="379.15999999999997" stroke="#231f20" stroke-width="1.2" />
<text x="33" y="383.15999999999997" font-size="11" text-anchor="end" font-weight="normal" >8</text>
<line x1="37.4" y1="328.64" x2="42.6" y2="328.64" stroke="#231f20" stroke-width="1.2" />
<text x="20.765" y="332.64" font-size="11">&#x2007;2</text>
<path transform="translate(20.765,332.64) scale(0.005371,-0.005371)" d="M515,0 L696,0 L696,1409 L530,1409 L197,1180 L197,1010 L515,1237 Z" fill="#000" stroke="#000" stroke-width="0.15" vector-effect="non-scaling-stroke"/>
<line x1="58.5846927697574" y1="492.8" x2="58.5846927697574" y2="495.8" stroke="#231f20" stroke-width="1.15" />
<line x1="67.93513862561407" y1="492.8" x2="67.93513862561407" y2="495.8" stroke="#231f20" stroke-width="1.15" />
<line x1="74.5693855395148" y1="492.8" x2="74.5693855395148" y2="495.8" stroke="#231f20" stroke-width="1.15" />
<line x1="79.7153072302426" y1="492.8" x2="79.7153072302426" y2="495.8" stroke="#231f20" stroke-width="1.15" />
<line x1="83.91983139537147" y1="492.8" x2="83.91983139537147" y2="495.8" stroke="#231f20" stroke-width="1.15" />
<line x1="87.47470592475705" y1="492.8" x2="87.47470592475705" y2="495.8" stroke="#231f20" stroke-width="1.15" />
<line x1="90.5540783092722" y1="492.8" x2="90.5540783092722" y2="495.8" stroke="#231f20" stroke-width="1.15" />
<line x1="93.27027725122815" y1="492.8" x2="93.27027725122815" y2="495.8" stroke="#231f20" stroke-width="1.15" />
<line x1="111.6846927697574" y1="492.8" x2="111.6846927697574" y2="495.8" stroke="#231f20" stroke-width="1.15" />
<line x1="121.03513862561408" y1="492.8" x2="121.03513862561408" y2="495.8" stroke="#231f20" stroke-width="1.15" />
<line x1="127.6693855395148" y1="492.8" x2="127.6693855395148" y2="495.8" stroke="#231f20" stroke-width="1.15" />
<line x1="132.8153072302426" y1="492.8" x2="132.8153072302426" y2="495.8" stroke="#231f20" stroke-width="1.15" />
<line x1="137.01983139537148" y1="492.8" x2="137.01983139537148" y2="495.8" stroke="#231f20" stroke-width="1.15" />
<line x1="140.57470592475704" y1="492.8" x2="140.57470592475704" y2="495.8" stroke="#231f20" stroke-width="1.15" />
<line x1="143.65407830927222" y1="492.8" x2="143.65407830927222" y2="495.8" stroke="#231f20" stroke-width="1.15" />
<line x1="146.37027725122815" y1="492.8" x2="146.37027725122815" y2="495.8" stroke="#231f20" stroke-width="1.15" />
<line x1="164.7846927697574" y1="492.8" x2="164.7846927697574" y2="495.8" stroke="#231f20" stroke-width="1.15" />
<line x1="174.13513862561408" y1="492.8" x2="174.13513862561408" y2="495.8" stroke="#231f20" stroke-width="1.15" />
<line x1="180.76938553951481" y1="492.8" x2="180.76938553951481" y2="495.8" stroke="#231f20" stroke-width="1.15" />
<line x1="185.9153072302426" y1="492.8" x2="185.9153072302426" y2="495.8" stroke="#231f20" stroke-width="1.15" />
<line x1="190.11983139537148" y1="492.8" x2="190.11983139537148" y2="495.8" stroke="#231f20" stroke-width="1.15" />
<line x1="193.67470592475706" y1="492.8" x2="193.67470592475706" y2="495.8" stroke="#231f20" stroke-width="1.15" />
<line x1="196.7540783092722" y1="492.8" x2="196.7540783092722" y2="495.8" stroke="#231f20" stroke-width="1.15" />
<line x1="199.47027725122814" y1="492.8" x2="199.47027725122814" y2="495.8" stroke="#231f20" stroke-width="1.15" />
<line x1="217.8846927697574" y1="492.8" x2="217.8846927697574" y2="495.8" stroke="#231f20" stroke-width="1.15" />
<line x1="227.23513862561407" y1="492.8" x2="227.23513862561407" y2="495.8" stroke="#231f20" stroke-width="1.15" />
<line x1="233.86938553951484" y1="492.8" x2="233.86938553951484" y2="495.8" stroke="#231f20" stroke-width="1.15" />
<line x1="239.01530723024263" y1="492.8" x2="239.01530723024263" y2="495.8" stroke="#231f20" stroke-width="1.15" />
<line x1="243.2198313953715" y1="492.8" x2="243.2198313953715" y2="495.8" stroke="#231f20" stroke-width="1.15" />
<line x1="246.77470592475703" y1="492.8" x2="246.77470592475703" y2="495.8" stroke="#231f20" stroke-width="1.15" />
<line x1="249.8540783092722" y1="492.8" x2="249.8540783092722" y2="495.8" stroke="#231f20" stroke-width="1.15" />
<line x1="252.57027725122816" y1="492.8" x2="252.57027725122816" y2="495.8" stroke="#231f20" stroke-width="1.15" />
<line x1="270.98469276975743" y1="492.8" x2="270.98469276975743" y2="495.8" stroke="#231f20" stroke-width="1.15" />
<line x1="280.3351386256141" y1="492.8" x2="280.3351386256141" y2="495.8" stroke="#231f20" stroke-width="1.15" />
<line x1="286.9693855395148" y1="492.8" x2="286.9693855395148" y2="495.8" stroke="#231f20" stroke-width="1.15" />
<line x1="292.1153072302426" y1="492.8" x2="292.1153072302426" y2="495.8" stroke="#231f20" stroke-width="1.15" />
<line x1="296.3198313953715" y1="492.8" x2="296.3198313953715" y2="495.8" stroke="#231f20" stroke-width="1.15" />
<line x1="299.87470592475705" y1="492.8" x2="299.87470592475705" y2="495.8" stroke="#231f20" stroke-width="1.15" />
<line x1="302.95407830927223" y1="492.8" x2="302.95407830927223" y2="495.8" stroke="#231f20" stroke-width="1.15" />
<line x1="305.67027725122813" y1="492.8" x2="305.67027725122813" y2="495.8" stroke="#231f20" stroke-width="1.15" />
<line x1="42.6" y1="492.8" x2="42.6" y2="497.9" stroke="#231f20" stroke-width="1.2" />
<text x="42.6" y="510.6" font-size="11" text-anchor="middle" font-weight="normal" >0</text>
<line x1="95.7" y1="492.8" x2="95.7" y2="497.9" stroke="#231f20" stroke-width="1.2" />
<text x="92.641" y="510.6" font-size="11">&#x2007;</text>
<path transform="translate(92.641,510.6) scale(0.005371,-0.005371)" d="M515,0 L696,0 L696,1409 L530,1409 L197,1180 L197,1010 L515,1237 Z" fill="#000" stroke="#000" stroke-width="0.15" vector-effect="non-scaling-stroke"/>
<line x1="148.8" y1="492.8" x2="148.8" y2="497.9" stroke="#231f20" stroke-width="1.2" />
<text x="142.682" y="510.6" font-size="11">&#x2007;0</text>
<path transform="translate(142.682,510.6) scale(0.005371,-0.005371)" d="M515,0 L696,0 L696,1409 L530,1409 L197,1180 L197,1010 L515,1237 Z" fill="#000" stroke="#000" stroke-width="0.15" vector-effect="non-scaling-stroke"/>
<line x1="201.9" y1="492.8" x2="201.9" y2="497.9" stroke="#231f20" stroke-width="1.2" />
<text x="192.723" y="510.6" font-size="11">&#x2007;00</text>
<path transform="translate(192.723,510.6) scale(0.005371,-0.005371)" d="M515,0 L696,0 L696,1409 L530,1409 L197,1180 L197,1010 L515,1237 Z" fill="#000" stroke="#000" stroke-width="0.15" vector-effect="non-scaling-stroke"/>
<line x1="255.0" y1="492.8" x2="255.0" y2="497.9" stroke="#231f20" stroke-width="1.2" />
<text x="242.765" y="510.6" font-size="11">&#x2007;000</text>
<path transform="translate(242.765,510.6) scale(0.005371,-0.005371)" d="M515,0 L696,0 L696,1409 L530,1409 L197,1180 L197,1010 L515,1237 Z" fill="#000" stroke="#000" stroke-width="0.15" vector-effect="non-scaling-stroke"/>
<line x1="308.1" y1="492.8" x2="308.1" y2="497.9" stroke="#231f20" stroke-width="1.2" />
<text x="291.278" y="510.6" font-size="11">&#x2007;0,000</text>
<path transform="translate(291.278,510.6) scale(0.005371,-0.005371)" d="M515,0 L696,0 L696,1409 L530,1409 L197,1180 L197,1010 L515,1237 Z" fill="#000" stroke="#000" stroke-width="0.15" vector-effect="non-scaling-stroke"/>
<text x="171.8" y="527.6" font-size="11.5" text-anchor="middle" font-weight="normal" >Target DNA (amol)</text>
<text transform="translate(10.2,405.0) rotate(-90)" font-size="11.3" text-anchor="middle">Visual signal (a.u.)</text>
<text x="358.9" y="320.0" font-size="15.6" text-anchor="start" font-weight="bold" >d</text>
<line x1="392.7" y1="318.6" x2="392.7" y2="490.8" stroke="#231f20" stroke-width="1.25" />
<line x1="392.2" y1="490.2" x2="650" y2="490.2" stroke="#231f20" stroke-width="1.2" />
<path d="M393.73,460.95 L394.90,456.79 L396.06,452.76 L397.22,448.87 L398.39,445.11 L399.55,441.47 L400.71,437.96 L401.87,434.56 L403.04,431.28 L404.20,428.11 L405.36,425.05 L406.53,422.09 L407.69,419.23 L408.85,416.46 L410.01,413.79 L411.18,411.20 L412.34,408.71 L413.50,406.30 L414.66,403.96 L415.83,401.71 L416.99,399.53 L418.15,397.43 L419.32,395.40 L420.48,393.43 L421.64,391.53 L422.80,389.70 L423.97,387.92 L425.13,386.21 L426.29,384.55 L427.46,382.95 L428.62,381.40 L429.78,379.91 L430.94,378.46 L432.11,377.07 L433.27,375.72 L434.43,374.41 L435.60,373.15 L436.76,371.93 L437.92,370.75 L439.08,369.62 L440.25,368.52 L441.41,367.46 L442.57,366.43 L443.74,365.44 L444.90,364.48 L446.06,363.55 L447.22,362.65 L448.39,361.79 L449.55,360.95 L450.71,360.14 L451.88,359.36 L453.04,358.61 L454.20,357.88 L455.36,357.17 L456.53,356.49 L457.69,355.83 L458.85,355.19 L460.02,354.58 L461.18,353.99 L462.34,353.41 L463.50,352.86 L464.67,352.32 L465.83,351.80 L466.99,351.30 L468.16,350.81 L469.32,350.35 L470.48,349.89 L471.64,349.46 L472.81,349.03 L473.97,348.63 L475.13,348.23 L476.29,347.85 L477.46,347.48 L478.62,347.13 L479.78,346.78 L480.95,346.45 L482.11,346.13 L483.27,345.82 L484.43,345.52 L485.60,345.23 L486.76,344.95 L487.92,344.68 L489.09,344.41 L490.25,344.16 L491.41,343.92 L492.57,343.68 L493.74,343.45 L494.90,343.23 L496.06,343.02 L497.23,342.81 L498.39,342.61 L499.55,342.42 L500.71,342.23 L501.88,342.05 L503.04,341.88 L504.20,341.71 L505.37,341.55 L506.53,341.39 L507.69,341.24 L508.85,341.09 L510.02,340.95 L511.18,340.82 L512.34,340.68 L513.51,340.56 L514.67,340.43 L515.83,340.31 L516.99,340.20 L518.16,340.09 L519.32,339.98 L520.48,339.87 L521.65,339.77 L522.81,339.68 L523.97,339.58 L525.13,339.49 L526.30,339.40 L527.46,339.32 L528.62,339.24 L529.79,339.16 L530.95,339.08 L532.11,339.01 L533.27,338.94 L534.44,338.87 L535.60,338.80 L536.76,338.74 L537.92,338.67 L539.09,338.61 L540.25,338.55 L541.41,338.50 L542.58,338.44 L543.74,338.39 L544.90,338.34 L546.06,338.29 L547.23,338.24 L548.39,338.20 L549.55,338.15 L550.72,338.11 L551.88,338.07 L553.04,338.03 L554.20,337.99 L555.37,337.95 L556.53,337.92 L557.69,337.88 L558.86,337.85 L560.02,337.82 L561.18,337.79 L562.34,337.75 L563.51,337.73 L564.67,337.70 L565.83,337.67 L567.00,337.64 L568.16,337.62 L569.32,337.59 L570.48,337.57 L571.65,337.55 L572.81,337.52 L573.97,337.50 L575.14,337.48 L576.30,337.46 L577.46,337.44 L578.62,337.42 L579.79,337.40 L580.95,337.39 L582.11,337.37 L583.28,337.35 L584.44,337.34 L585.60,337.32 L586.76,337.31 L587.93,337.29 L589.09,337.28 L590.25,337.26 L591.42,337.25 L592.58,337.24 L593.74,337.23 L594.90,337.22 L596.07,337.20 L597.23,337.19 L598.39,337.18 L599.55,337.17 L600.72,337.16 L601.88,337.15 L603.04,337.14 L604.21,337.14 L605.37,337.13 L606.53,337.12 L607.69,337.11 L608.86,337.10 L610.02,337.09 L611.18,337.09 L612.35,337.08 L613.51,337.07 L614.67,337.07 L615.83,337.06 L617.00,337.05 L618.16,337.05 L619.32,337.04 L620.49,337.04 L621.65,337.03 L622.81,337.03 L623.97,337.02 L625.14,337.02 L626.30,337.01" fill="none" stroke="#111" stroke-width="1.9" stroke-dasharray="6.023 2.811"/>
<circle cx="392.8" cy="469" r="4.15" fill="#f84a42"/>
<circle cx="392.8" cy="470.8" r="4.15" fill="#f84a42"/>
<circle cx="423.8" cy="390.6" r="4.15" fill="#f84a42"/>
<circle cx="494" cy="339.7" r="4.15" fill="#f84a42"/>
<circle cx="501.5" cy="325.7" r="4.15" fill="#f84a42"/>
<circle cx="610.8" cy="338.5" r="4.15" fill="#f84a42"/>
<circle cx="626" cy="348.5" r="4.15" fill="#f84a42"/>
<line x1="388" y1="455.9" x2="392.7" y2="455.9" stroke="#231f20" stroke-width="1.2" />
<text x="377.594" y="459.79999999999995" font-size="10.8">&#x2007;</text>
<path transform="translate(377.594,459.79999999999995) scale(0.005273,-0.005273)" d="M515,0 L696,0 L696,1409 L530,1409 L197,1180 L197,1010 L515,1237 Z" fill="#000" stroke="#000" stroke-width="0.15" vector-effect="non-scaling-stroke"/>
<line x1="388" y1="421.6" x2="392.7" y2="421.6" stroke="#231f20" stroke-width="1.2" />
<text x="383.6" y="425.5" font-size="10.8" text-anchor="end" font-weight="normal" >2</text>
<line x1="388" y1="387.3" x2="392.7" y2="387.3" stroke="#231f20" stroke-width="1.2" />
<text x="383.6" y="391.2" font-size="10.8" text-anchor="end" font-weight="normal" >3</text>
<line x1="388" y1="353.0" x2="392.7" y2="353.0" stroke="#231f20" stroke-width="1.2" />
<text x="383.6" y="356.9" font-size="10.8" text-anchor="end" font-weight="normal" >4</text>
<line x1="388" y1="318.7" x2="392.7" y2="318.7" stroke="#231f20" stroke-width="1.2" />
<text x="383.6" y="322.59999999999997" font-size="10.8" text-anchor="end" font-weight="normal" >5</text>
<line x1="392.8" y1="490.2" x2="392.8" y2="493.5" stroke="#231f20" stroke-width="1.2" />
<text x="393.1" y="508.2" font-size="11.2" text-anchor="middle" font-weight="normal" >0</text>
<line x1="439.5" y1="490.2" x2="439.5" y2="493.5" stroke="#231f20" stroke-width="1.2" />
<text x="439.8" y="508.2" font-size="11.2" text-anchor="middle" font-weight="normal" >2</text>
<line x1="486.20000000000005" y1="490.2" x2="486.20000000000005" y2="493.5" stroke="#231f20" stroke-width="1.2" />
<text x="486.50000000000006" y="508.2" font-size="11.2" text-anchor="middle" font-weight="normal" >4</text>
<line x1="532.9000000000001" y1="490.2" x2="532.9000000000001" y2="493.5" stroke="#231f20" stroke-width="1.2" />
<text x="533.2" y="508.2" font-size="11.2" text-anchor="middle" font-weight="normal" >6</text>
<line x1="579.6" y1="490.2" x2="579.6" y2="493.5" stroke="#231f20" stroke-width="1.2" />
<text x="579.9" y="508.2" font-size="11.2" text-anchor="middle" font-weight="normal" >8</text>
<line x1="626.3" y1="490.2" x2="626.3" y2="493.5" stroke="#231f20" stroke-width="1.2" />
<text x="620.371" y="508.2" font-size="11.2">&#x2007;0</text>
<path transform="translate(620.371,508.2) scale(0.005469,-0.005469)" d="M515,0 L696,0 L696,1409 L530,1409 L197,1180 L197,1010 L515,1237 Z" fill="#000" stroke="#000" stroke-width="0.15" vector-effect="non-scaling-stroke"/>
<text x="521.3" y="524" font-size="11.3" text-anchor="middle" font-weight="normal" >Visual signal (a.u.)</text>
<text transform="translate(367.5,404.3) rotate(-90)" font-size="11.2" text-anchor="middle">Fluorescence signal (a.u.)</text>
<text x="503.4" y="405.6" font-size="9.6" style="stroke:none"><tspan font-style="italic">R</tspan><tspan font-size="6.5" dy="-4">2</tspan><tspan dy="4"> = 0.983</tspan></text>
</svg></body></html>
